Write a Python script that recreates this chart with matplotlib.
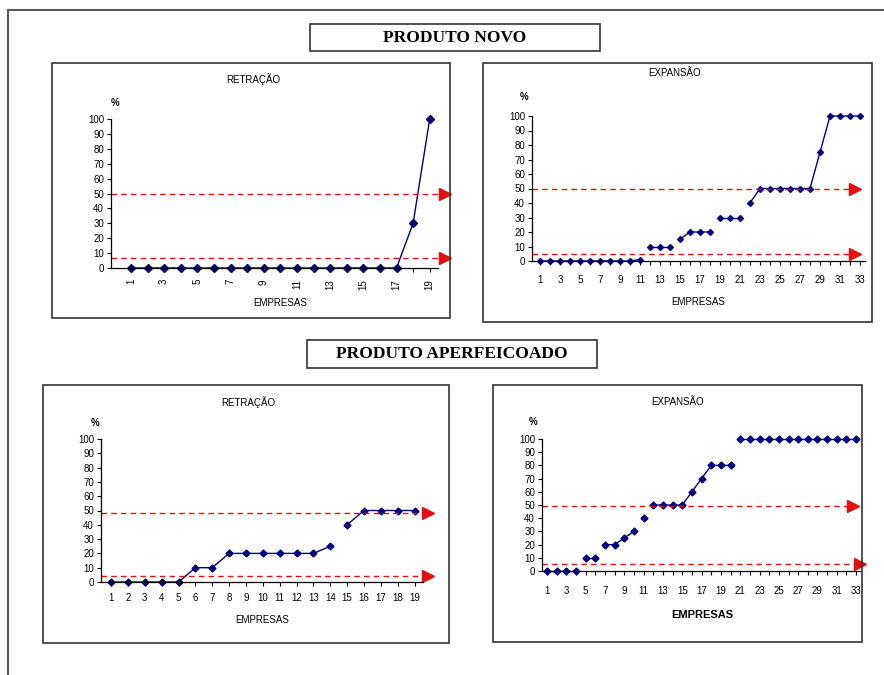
import numpy as np
import matplotlib
matplotlib.use("Agg")
import matplotlib.pyplot as plt
from matplotlib.patches import Rectangle
from matplotlib.lines import Line2D

plt.rcParams['font.family'] = ['Liberation Sans', 'DejaVu Sans']

# --- data ---
p1_vals = [0, 0, 0, 0, 0, 0, 0, 0, 0, 0, 0, 0, 0, 0, 0, 0, 0, 30, 100]
p1_gaps = []
p1_levels = [50, 7]

p2_vals = [0, 0, 0, 0, 0, 0, 0, 0, 0, 0, 1, 10, 10, 10, 15, 20, 20, 20, 30, 30, 30,
           40, 50, 50, 50, 50, 50, 50, 75, 100, 100, 100, 100]
p2_gaps = [11, 14, 18, 21]
p2_levels = [50, 5]

p3_vals = [0, 0, 0, 0, 0, 10, 10, 20, 20, 20, 20, 20, 20, 25, 40, 50, 50, 50, 50]
p3_gaps = [14]
p3_levels = [48.5, 4.5]

p4_vals = [0, 0, 0, 0, 10, 10, 20, 20, 25, 30, 40, 50, 50, 50, 50, 60, 70, 80, 80, 80,
           100, 100, 100, 100, 100, 100, 100, 100, 100, 100, 100, 100, 100]
p4_gaps = [4, 6, 10, 11, 20]
p4_levels = [49, 5]

yticks = list(range(0, 101, 10))
navy = '#000080'
red = '#e41010'

W, H = 884, 675
fig = plt.figure(figsize=(W / 100, H / 100), dpi=100)


def fx(x):
    return x / W


def fy(y):
    return 1 - y / H


def box(x1, y1, x2, y2, lw=1.2, ec='#333333'):
    fig.add_artist(Rectangle((fx(x1), fy(y2)), fx(x2 - x1), (y2 - y1) / H,
                             transform=fig.transFigure, fill=False, lw=lw, ec=ec))


def panel(vals, gaps, levels, axpos, xlim, title, tpos, ppos, lpos, arrow_x,
          step=2, rot=0, xpad=4, ms=3.5, bold_label=False):
    l, r, top, bot = axpos
    ax = fig.add_axes([fx(l), fy(bot), fx(r - l), (bot - top) / H])
    n = len(vals)
    x = np.arange(1, n + 1)
    y = np.array(vals, dtype=float)
    cuts = [0] + list(gaps) + [n]
    for a, b in zip(cuts[:-1], cuts[1:]):
        ax.plot(x[a:b], y[a:b], color=navy, lw=1.0, clip_on=False)
    ax.plot(x, y, ls='none', marker='D', ms=ms, color=navy, clip_on=False)
    for lev, ax_end in zip(levels, arrow_x):
        ax.plot([0, ax_end], [lev, lev], transform=ax.get_yaxis_transform(),
                color=red, ls=(0, (4, 3)), lw=1.0, clip_on=False)
        ax.plot([ax_end], [lev], transform=ax.get_yaxis_transform(),
                marker='>', ms=8, color=red, mec=red, ls='none', clip_on=False)
    ax.set_xlim(*xlim)
    ax.set_ylim(0, 100)
    ax.set_yticks(yticks)
    ax.set_xticks(range(1, n + 1, step))
    ax.set_xticks(range(1, n + 1), minor=True)
    ax.tick_params(axis='both', labelsize=7, length=3, width=0.8, pad=2)
    ax.tick_params(axis='x', which='minor', length=3, width=0.8)
    ax.tick_params(axis='x', labelrotation=rot, pad=xpad)
    for s in ['top', 'right']:
        ax.spines[s].set_visible(False)
    for s in ['left', 'bottom']:
        ax.spines[s].set_linewidth(0.9)
    ax.patch.set_alpha(0)
    fig.text(fx(tpos[0]), fy(tpos[1]), title, fontsize=7, ha='center', va='center')
    fig.text(fx(ppos[0]), fy(ppos[1]), '%', fontsize=7, ha='center', va='center',
             fontweight='bold')
    if bold_label:
        fig.text(fx(lpos[0]), fy(lpos[1]), 'EMPRESAS', fontsize=8, ha='center',
                 va='center', fontweight='bold')
    else:
        fig.text(fx(lpos[0]), fy(lpos[1]), 'EMPRESAS', fontsize=7, ha='center', va='center')
    return ax


# page border
fig.add_artist(Line2D([fx(8), fx(884)], [fy(10), fy(10)], transform=fig.transFigure,
                      color='#5a5a5a', lw=1.5))
fig.add_artist(Line2D([fx(8), fx(8)], [fy(10), fy(675)], transform=fig.transFigure,
                      color='#5a5a5a', lw=1.5))

# section headers
box(310, 24, 600, 51)
fig.text(fx(455), fy(38), 'PRODUTO NOVO', fontsize=12.5, fontweight='bold',
         family='Liberation Serif', ha='center', va='center')
box(307, 340, 597, 368)
fig.text(fx(452), fy(354), 'PRODUTO APERFEICOADO', fontsize=12.5, fontweight='bold',
         family='Liberation Serif', ha='center', va='center')

# panel boxes
box(52, 63, 450, 318)
box(483, 63, 872, 322)
box(43, 385, 449, 643)
box(493, 385, 862, 642)

panel(p1_vals, p1_gaps, p1_levels, (111, 438, 119, 268), (-0.2, 19.5), 'RETRAÇÃO',
      (253, 79), (115, 103), (280, 303), [1.02, 1.02], step=2, rot=90, xpad=5, ms=4)
panel(p2_vals, p2_gaps, p2_levels, (532, 865, 116, 261), (0.2, 33.5), 'EXPANSÃO',
      (675, 73), (524, 97), (698, 302), [0.97, 0.97], step=2, xpad=7, ms=3)
panel(p3_vals, p3_gaps, p3_levels, (101, 423, 439, 582), (0.4, 19.5), 'RETRAÇÃO',
      (248, 402), (95, 423), (262, 620), [1.016, 1.016], step=1, xpad=5, ms=3.5)
panel(p4_vals, p4_gaps, p4_levels, (542, 860, 439, 571), (0.48, 33.4), 'EXPANSÃO',
      (678, 402), (533, 422), (702, 615), [0.978, 1.0], step=2, xpad=8, ms=3.5,
      bold_label=True)

fig.savefig('out.png', dpi=100)
